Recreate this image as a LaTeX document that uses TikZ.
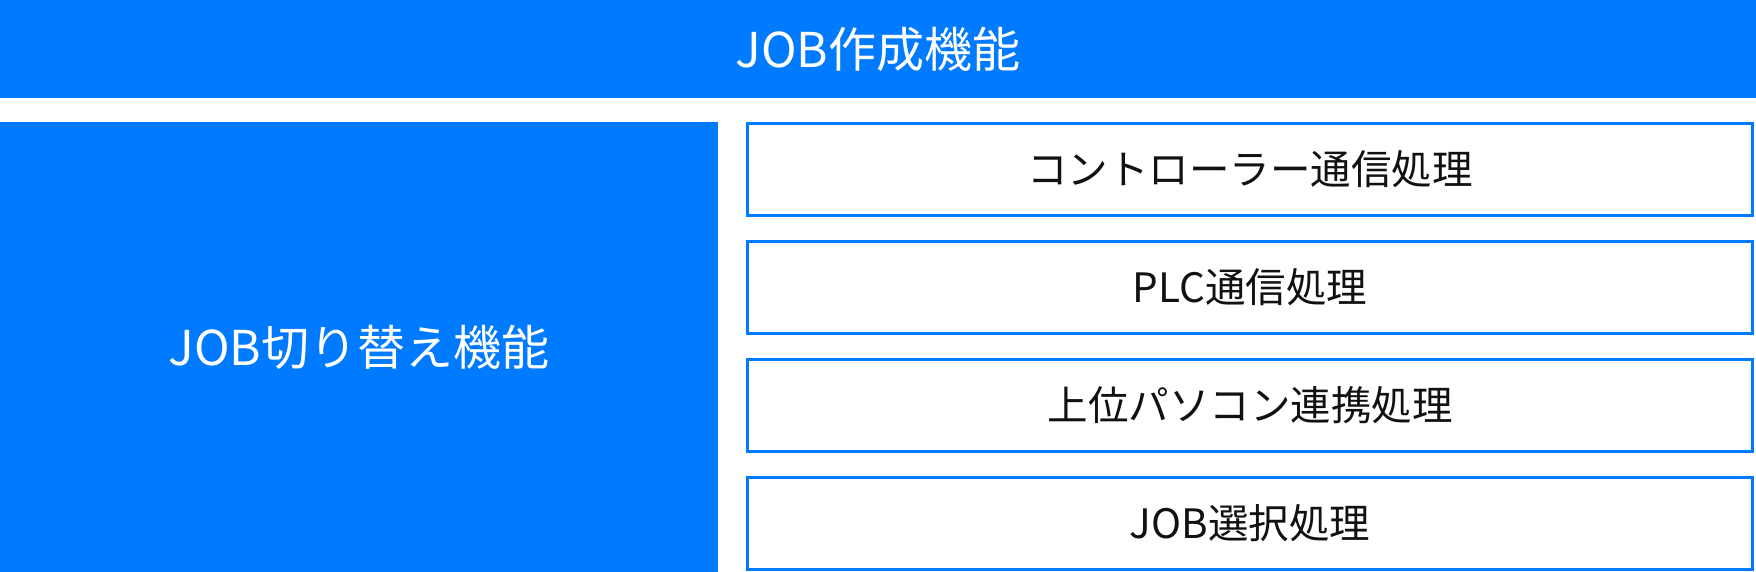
\documentclass[tikz,border=0pt]{standalone}
\usepackage{fontspec}
\setmainfont{Noto Sans CJK JP}
\usepackage{tikz}

\definecolor{jobblue}{HTML}{007AFF}
\definecolor{textdark}{HTML}{111111}

\begin{document}
\begin{tikzpicture}[x=1pt, y=-1pt,
    mainbar/.style={fill=jobblue, text=white, inner sep=0pt, font=\fontsize{48}{52}\selectfont},
    procbox/.style={draw=jobblue, line width=3pt, fill=white, text=textdark, inner sep=0pt,
                    minimum width=1005pt, minimum height=92pt, font=\fontsize{40.5}{45}\selectfont}]
    \useasboundingbox (0,0) rectangle (1756,572);

    \node[mainbar, minimum width=1756pt, minimum height=98pt] (create) at (878,49) {JOB作成機能};
    \node[mainbar, minimum width=718pt, minimum height=450pt] (switch) at (359,347) {JOB切り替え機能};

    \node[procbox] (ctrl) at (1250,169.5) {コントローラー通信処理};
    \node[procbox] (plc) at (1250,287.5) {PLC通信処理};
    \node[procbox] (host) at (1250,405.5) {上位パソコン連携処理};
    \node[procbox] (select) at (1250,523.5) {JOB選択処理};
  \end{tikzpicture}
\end{document}
